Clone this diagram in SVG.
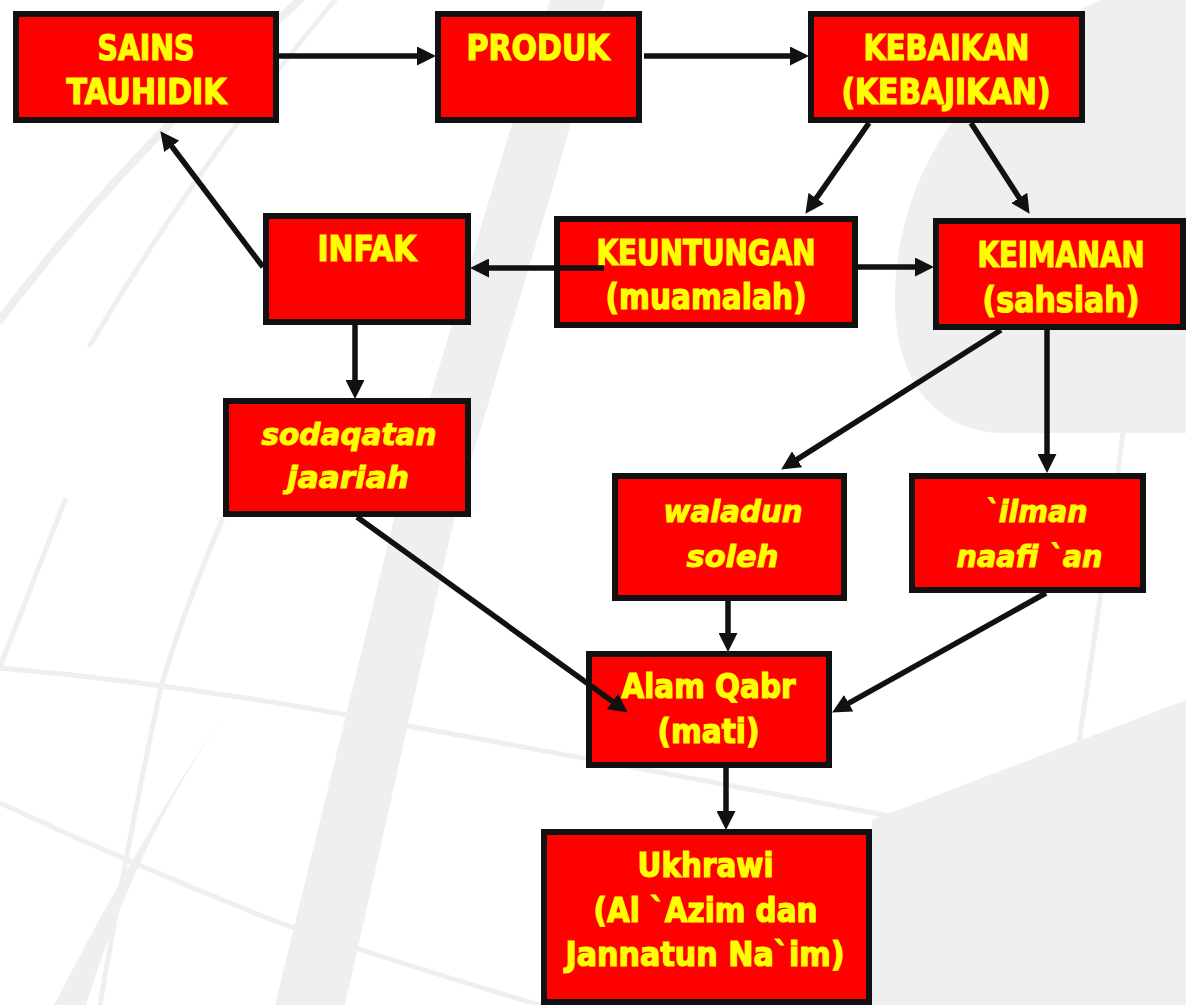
<svg xmlns="http://www.w3.org/2000/svg" width="1186" height="1005" viewBox="0 0 1186 1005">
<style>
.bgf{fill:#eeefef;stroke:none}
.bgs{fill:none;stroke:#eeefef;stroke-linecap:round}
.box{fill:#ff0000;stroke:#111;stroke-width:6}
.t{fill:#ffff00;stroke:#ffff00;stroke-width:1.2;font-family:"DejaVu Sans Condensed","DejaVu Sans",sans-serif;font-weight:bold;font-stretch:condensed;font-size:36px;text-anchor:middle}
.s{font-size:34px}
.i{fill:#ffff00;stroke:#ffff00;stroke-width:1;font-family:"DejaVu Sans",Verdana,sans-serif;font-weight:bold;font-style:italic;font-size:30px;text-anchor:middle}
.c{fill:none;stroke:#111;stroke-width:5.5}
</style>
<defs>
<marker id="ah" markerUnits="userSpaceOnUse" markerWidth="19" markerHeight="19" refX="8" refY="9.5" orient="auto">
<path d="M0,0 L19,9.5 L0,19 Z" fill="#111"/>
</marker>
</defs>
<rect width="1186" height="1005" fill="#fff"/>
<g id="background">
<path class="bgf" d="M275,1005 L345,1005 L455,515 L555,180 L605,0 L550,0 L495,180 L395,515 Z"/>
<path class="bgf" d="M1100,0 C975,60 895,170 895,300 C895,380 935,433 1005,433 L1186,433 L1186,0 Z"/>
<path class="bgf" d="M872,820 L1186,700 L1186,1005 L872,1005 Z"/>
<path class="bgf" d="M54,1005 L86,1005 Q135,845 222,718 Q150,820 54,1005 Z"/>
<path class="bgs" stroke-width="5" d="M0,668 Q160,682 330,712 Q600,760 920,822 Q1060,850 1186,880"/>
<path class="bgs" stroke-width="5" d="M0,803 Q140,868 280,923 Q420,970 540,1005"/>
<path class="bgs" stroke-width="5" d="M222,520 Q180,620 161,687 Q130,830 100,1005"/>
<path class="bgs" stroke-width="5" d="M65,500 Q30,590 0,667"/>
<path class="bgs" stroke-width="8" d="M0,320 Q120,160 300,0"/>
<path class="bgs" stroke-width="5" d="M90,345 Q200,160 335,0"/>
<path class="bgs" stroke-width="5" d="M1160,140 Q1120,480 1070,800"/>
</g>
<g id="node-sains">
<rect class="box" x="16" y="14" width="260" height="106"/>
<text class="t" x="146" y="60" textLength="97" lengthAdjust="spacingAndGlyphs">SAINS</text>
<text class="t" x="146.5" y="104" textLength="160" lengthAdjust="spacingAndGlyphs">TAUHIDIK</text>
</g>
<g id="node-produk">
<rect class="box" x="438" y="14" width="201" height="106"/>
<text class="t" x="538" y="60" textLength="143" lengthAdjust="spacingAndGlyphs">PRODUK</text>
</g>
<g id="node-kebaikan">
<rect class="box" x="811" y="14" width="271" height="106"/>
<text class="t" x="946.5" y="60" textLength="166" lengthAdjust="spacingAndGlyphs">KEBAIKAN</text>
<text class="t" x="946" y="104" textLength="209" lengthAdjust="spacingAndGlyphs">(KEBAJIKAN)</text>
</g>
<g id="node-infak">
<rect class="box" x="266" y="216" width="202" height="106"/>
<text class="t" x="367" y="261" textLength="99" lengthAdjust="spacingAndGlyphs">INFAK</text>
</g>
<g id="node-keuntungan">
<rect class="box" x="557" y="219" width="298" height="106"/>
<text class="t" x="706" y="265" textLength="219" lengthAdjust="spacingAndGlyphs">KEUNTUNGAN</text>
<text class="t" x="706" y="309" textLength="201" lengthAdjust="spacingAndGlyphs">(muamalah)</text>
</g>
<g id="node-keimanan">
<rect class="box" x="936" y="221" width="247" height="106"/>
<text class="t" x="1061" y="267" textLength="167" lengthAdjust="spacingAndGlyphs">KEIMANAN</text>
<text class="t" x="1061" y="312" textLength="157" lengthAdjust="spacingAndGlyphs">(sahsiah)</text>
</g>
<g id="node-sodaqatan">
<rect class="box" x="226" y="401" width="242" height="113"/>
<text class="i" x="349" y="445" textLength="175" lengthAdjust="spacingAndGlyphs">sodaqatan</text>
<text class="i" x="348" y="488" textLength="122" lengthAdjust="spacingAndGlyphs">jaariah</text>
</g>
<g id="node-waladun">
<rect class="box" x="615" y="476" width="229" height="122"/>
<text class="i" x="733" y="522" textLength="139" lengthAdjust="spacingAndGlyphs">waladun</text>
<text class="i" x="732.5" y="567" textLength="92" lengthAdjust="spacingAndGlyphs">soleh</text>
</g>
<g id="node-ilman">
<rect class="box" x="912" y="476" width="231" height="114"/>
<text class="i" x="1036" y="522" textLength="103" lengthAdjust="spacingAndGlyphs">`ilman</text>
<text class="i" x="1029.5" y="567" textLength="146" lengthAdjust="spacingAndGlyphs">naafi `an</text>
</g>
<g id="node-alam">
<rect class="box" x="589" y="654" width="240" height="111"/>
<text class="t s" x="708.5" y="698" textLength="174" lengthAdjust="spacingAndGlyphs">Alam Qabr</text>
<text class="t s" x="708.5" y="743" textLength="102" lengthAdjust="spacingAndGlyphs">(mati)</text>
</g>
<g id="node-ukhrawi">
<rect class="box" x="544" y="832" width="325" height="170"/>
<text class="t s" x="705.5" y="877" textLength="136" lengthAdjust="spacingAndGlyphs">Ukhrawi</text>
<text class="t s" x="705.5" y="922" textLength="224" lengthAdjust="spacingAndGlyphs">(Al `Azim dan</text>
<text class="t s" x="705" y="966" textLength="279" lengthAdjust="spacingAndGlyphs">Jannatun Na`im)</text>
</g>
<g id="connectors">
<path class="c" marker-end="url(#ah)" d="M279,56 L425,56"/>
<path class="c" marker-end="url(#ah)" d="M644,56 L798,56"/>
<path class="c" marker-end="url(#ah)" d="M869,123 L811.7,204.8"/>
<path class="c" marker-end="url(#ah)" d="M971,123 L1023.6,204.6"/>
<path class="c" marker-end="url(#ah)" d="M604,268 L481,268"/>
<path class="c" marker-end="url(#ah)" d="M858,267 L923,267"/>
<path class="c" marker-end="url(#ah)" d="M263,267 L167,140"/>
<path class="c" marker-end="url(#ah)" d="M355,325 L355,388"/>
<path class="c" marker-end="url(#ah)" d="M1001,330 L790.4,463.6"/>
<path class="c" marker-end="url(#ah)" d="M1047,330 L1047,462"/>
<path class="c" marker-end="url(#ah)" d="M357,517 L618.9,706.1"/>
<path class="c" marker-end="url(#ah)" d="M728,601 L728,641"/>
<path class="c" marker-end="url(#ah)" d="M1046,593 L841.7,707.1"/>
<path class="c" marker-end="url(#ah)" d="M726,768 L726,819"/>
</g>
</svg>
